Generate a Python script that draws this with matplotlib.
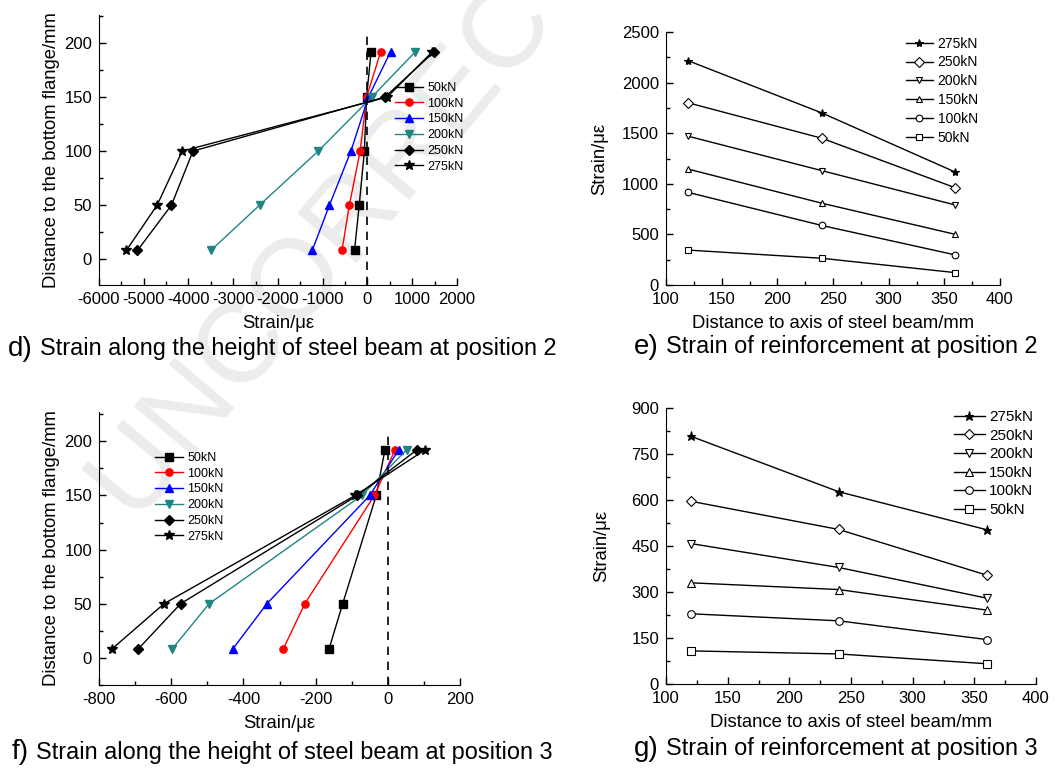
import numpy as np
import matplotlib
matplotlib.use("Agg")
import matplotlib.pyplot as plt
from matplotlib.ticker import MultipleLocator

plt.rcParams['font.family'] = ['Liberation Sans', 'DejaVu Sans']
plt.rcParams['axes.unicode_minus'] = False

# ------------------------------------------------------------
# data
# ------------------------------------------------------------
loads = ["50kN", "100kN", "150kN", "200kN", "250kN", "275kN"]

# d) steel beam, position 2
d_height = [8, 50, 100, 150, 192]
d_50 = [-290, -185, -70, -20, 80]
d_100 = [-570, -405, -165, -20, 295]
d_150 = [-1235, -850, -370, 20, 515]
d_200 = [-3500, -2410, -1100, 95, 1070]
d_250 = [-5140, -4380, -3900, 390, 1490]
d_275 = [-5390, -4700, -4140, 440, 1450]

# f) steel beam, position 3
f_height = [8, 50, 150, 192]
f_50 = [-163, -125, -32, -8]
f_100 = [-290, -230, -37, 20]
f_150 = [-430, -335, -50, 30]
f_200 = [-598, -495, -72, 52]
f_250 = [-692, -574, -84, 80]
f_275 = [-765, -620, -90, 103]

# e) reinforcement, position 2
rebar_dist = [120, 240, 360]
e_275 = [2216, 1700, 1115]
e_250 = [1800, 1450, 960]
e_200 = [1470, 1130, 790]
e_150 = [1145, 808, 500]
e_100 = [915, 588, 297]
e_50 = [345, 264, 122]

# g) reinforcement, position 3
g_275 = [808, 627, 503]
g_250 = [596, 504, 355]
g_200 = [458, 380, 280]
g_150 = [330, 308, 241]
g_100 = [229, 206, 145]
g_50 = [108, 98, 66]

beam_colors = ['black', 'red', 'blue', '#1f8585', 'black', 'black']
beam_markers = ['s', 'o', '^', 'v', 'D', '*']
rebar_markers = ['*', 'D', 'v', '^', 'o', 's']

W, H = 1061, 769
fig = plt.figure(figsize=(W / 100, H / 100), dpi=100)


def box(l, t, r, b):
    return [l / W, 1 - b / H, (r - l) / W, (b - t) / H]


def style_axes(ax):
    ax.set_facecolor('none')
    ax.spines['top'].set_visible(False)
    ax.spines['right'].set_visible(False)
    ax.tick_params(which='both', direction='in', labelsize=12, width=1)
    ax.tick_params(which='major', length=5, pad=5)
    ax.tick_params(which='minor', length=3)


# watermark
fig.text(395 / W, 1 - 162 / H, "UNCORRECTED", rotation=50, fontsize=82,
         color='#ececec', ha='center', va='center', rotation_mode='anchor',
         zorder=-1)

# ------------------------------------------------------------
# d) strain along height, position 2
# ------------------------------------------------------------
ax_d = fig.add_axes(box(99, 15, 457, 285))
style_axes(ax_d)
for vals, lab, c, m in zip([d_50, d_100, d_150, d_200, d_250, d_275],
                           loads, beam_colors, beam_markers):
    ms = 7 if m == '*' else 5.2
    ax_d.plot(vals, d_height, color=c, marker=m, markersize=ms, lw=1,
              label=lab)
ax_d.axvline(0, ymin=0, ymax=0.93, color='black', ls=(0, (5, 4)), lw=1.2)
ax_d.set_xlim(-6000, 2000)
ax_d.set_ylim(-24, 226)
ax_d.xaxis.set_major_locator(MultipleLocator(1000))
ax_d.xaxis.set_minor_locator(MultipleLocator(500))
ax_d.yaxis.set_major_locator(MultipleLocator(50))
ax_d.yaxis.set_minor_locator(MultipleLocator(25))
ax_d.set_xlabel("Strain/με", fontsize=13.3, labelpad=6)
ax_d.set_ylabel("Distance to the bottom flange/mm", fontsize=13.3,
                labelpad=3)
ax_d.legend(loc='upper left', bbox_to_anchor=(390 / W, 1 - 77 / H),
            bbox_transform=fig.transFigure, frameon=False, fontsize=9,
            handlelength=2.2, labelspacing=0.3, borderaxespad=0,
            handletextpad=0.4)

# ------------------------------------------------------------
# e) reinforcement strain, position 2
# ------------------------------------------------------------
ax_e = fig.add_axes(box(666, 32, 1000, 285))
style_axes(ax_e)
for vals, lab, m in zip([e_275, e_250, e_200, e_150, e_100, e_50],
                        loads[::-1], rebar_markers):
    ms = 6 if m == '*' else 4.8
    mfc = 'black' if m == '*' else 'white'
    ax_e.plot(rebar_dist, vals, color='black', marker=m, markersize=ms,
              markerfacecolor=mfc, markeredgewidth=0.8, lw=1, label=lab)
ax_e.set_xlim(100, 400)
ax_e.set_ylim(0, 2500)
ax_e.xaxis.set_major_locator(MultipleLocator(50))
ax_e.xaxis.set_minor_locator(MultipleLocator(25))
ax_e.yaxis.set_major_locator(MultipleLocator(500))
ax_e.yaxis.set_minor_locator(MultipleLocator(250))
ax_e.set_xlabel("Distance to axis of steel beam/mm", fontsize=13.3,
                labelpad=6)
ax_e.set_ylabel("Strain/με", fontsize=13.3, labelpad=10)
ax_e.legend(loc='upper left', bbox_to_anchor=(900 / W, 1 - 31 / H),
            bbox_transform=fig.transFigure, frameon=False, fontsize=10,
            handlelength=2.0, labelspacing=0.35, borderaxespad=0,
            handletextpad=0.3)

# ------------------------------------------------------------
# f) strain along height, position 3
# ------------------------------------------------------------
ax_f = fig.add_axes(box(99, 412, 460, 685))
style_axes(ax_f)
for vals, lab, c, m in zip([f_50, f_100, f_150, f_200, f_250, f_275],
                           loads, beam_colors, beam_markers):
    ms = 7 if m == '*' else 5.2
    ax_f.plot(vals, f_height, color=c, marker=m, markersize=ms, lw=1,
              label=lab)
ax_f.axvline(0, ymin=0, ymax=0.93, color='black', ls=(0, (5, 4)), lw=1.2)
ax_f.set_xlim(-800, 200)
ax_f.set_ylim(-25, 227)
ax_f.xaxis.set_major_locator(MultipleLocator(200))
ax_f.xaxis.set_minor_locator(MultipleLocator(100))
ax_f.yaxis.set_major_locator(MultipleLocator(50))
ax_f.yaxis.set_minor_locator(MultipleLocator(25))
ax_f.set_xlabel("Strain/με", fontsize=13.3, labelpad=6)
ax_f.set_ylabel("Distance to the bottom flange/mm", fontsize=13.3,
                labelpad=3)
ax_f.legend(loc='upper left', bbox_to_anchor=(150 / W, 1 - 447 / H),
            bbox_transform=fig.transFigure, frameon=False, fontsize=9,
            handlelength=2.2, labelspacing=0.3, borderaxespad=0,
            handletextpad=0.4)

# ------------------------------------------------------------
# g) reinforcement strain, position 3
# ------------------------------------------------------------
ax_g = fig.add_axes(box(666, 408, 1036, 684))
style_axes(ax_g)
for vals, lab, m in zip([g_275, g_250, g_200, g_150, g_100, g_50],
                        loads[::-1], rebar_markers):
    ms = 6.5 if m == '*' else 5.5
    mfc = 'black' if m == '*' else 'white'
    ax_g.plot(rebar_dist, vals, color='black', marker=m, markersize=ms,
              markerfacecolor=mfc, markeredgewidth=0.8, lw=1, label=lab)
ax_g.set_xlim(100, 400)
ax_g.set_ylim(0, 900)
ax_g.xaxis.set_major_locator(MultipleLocator(50))
ax_g.xaxis.set_minor_locator(MultipleLocator(25))
ax_g.yaxis.set_major_locator(MultipleLocator(150))
ax_g.yaxis.set_minor_locator(MultipleLocator(75))
ax_g.set_xlabel("Distance to axis of steel beam/mm", fontsize=13.3,
                labelpad=6)
ax_g.set_ylabel("Strain/με", fontsize=13.3, labelpad=15)
ax_g.legend(loc='upper left', bbox_to_anchor=(948 / W, 1 - 404 / H),
            bbox_transform=fig.transFigure, frameon=False, fontsize=11,
            handlelength=2.0, labelspacing=0.3, borderaxespad=0,
            handletextpad=0.3)

# ------------------------------------------------------------
# captions
# ------------------------------------------------------------
captions = [
    (8, 349, "d)", 40, "Strain along the height of steel beam at position 2"),
    (634, 347, "e)", 666, "Strain of reinforcement at position 2"),
    (12, 752, "f)", 36, "Strain along the height of steel beam at position 3"),
    (634, 749, "g)", 666, "Strain of reinforcement at position 3"),
]
for lx, cy, letter, tx, text in captions:
    fig.text(lx / W, 1 - cy / H, letter, fontsize=20, va='center',
             ha='left')
    fig.text(tx / W, 1 - cy / H, text, fontsize=16.9, va='center',
             ha='left')

fig.savefig("out.png", dpi=100)
